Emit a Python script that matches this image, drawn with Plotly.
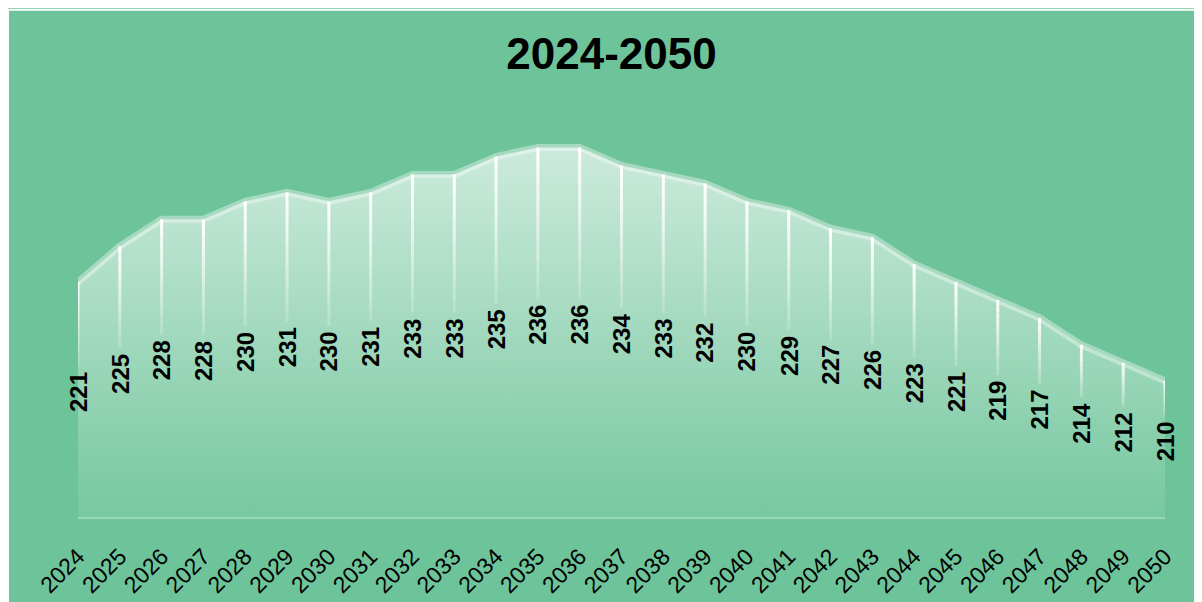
import plotly.graph_objects as go

years = list(range(2024, 2051))
values = [221, 225, 228, 228, 230, 231, 230, 231, 233, 233, 235, 236, 236, 234,
          233, 232, 230, 229, 227, 226, 223, 221, 219, 217, 214, 212, 210]
title_text = "2024-2050"

# the page places the figure with an 8px body margin; the figure overflows right/bottom
W, H = 1202, 602
ML, MR, MT, MB = 70, 45, 92, 90
Y_MIN, Y_MAX = 194.8, 241.3
plot_h = H - MT - MB
px_per_unit = plot_h / (Y_MAX - Y_MIN)
plot_w = W - ML - MR

BG = "#6EC49A"
FONT = "Liberation Sans, Arial"

fig = go.Figure()

fig.add_trace(go.Scatter(x=years, y=[Y_MIN] * len(years), mode="lines",
                         line=dict(width=0, color="rgba(0,0,0,0)"),
                         hoverinfo="skip", showlegend=False))
fig.add_trace(go.Scatter(
    x=years, y=values, mode="lines", fill="tonexty",
    line=dict(width=7, color="rgba(255,255,255,0.38)"),
    fillgradient=dict(type="vertical",
                      colorscale=[[0, "rgba(255,255,255,0.06)"], [1, "rgba(255,255,255,0.65)"]],
                      start=Y_MIN, stop=max(values)),
    showlegend=False, hoverinfo="skip"))

shapes = []
annotations = []
label_shift_px = 7.5
for yr, v in zip(years, values):
    mid = (v + Y_MIN) / 2
    label_center = mid + label_shift_px / px_per_unit
    line_bottom = label_center + 26 / px_per_unit
    n = 12
    for i in range(n):
        y0 = v - (v - line_bottom) * i / n
        y1 = v - (v - line_bottom) * (i + 1) / n
        op = 1.0 - 0.8 * i / (n - 1)
        shapes.append(dict(type="line", xref="x", yref="y", x0=yr, x1=yr, y0=y0, y1=y1,
                           line=dict(color="white", width=3), opacity=op, layer="above"))
    annotations.append(dict(x=yr, y=mid, xref="x", yref="y", text="<b>" + str(v) + "</b>",
                            textangle=-90, showarrow=False, yshift=label_shift_px,
                            font=dict(family=FONT, size=24, color="black")))

# thin white strips so the green panel starts at (9,10) on the page
shapes.append(dict(type="rect", xref="paper", yref="paper", layer="below",
                   x0=-ML / plot_w, x1=(1 - ML) / plot_w, y0=-MB / plot_h, y1=1 + MT / plot_h,
                   fillcolor="white", line=dict(width=0)))
shapes.append(dict(type="rect", xref="paper", yref="paper", layer="below",
                   x0=-ML / plot_w, x1=1 + MR / plot_w, y0=1 + (MT - 2) / plot_h, y1=1 + MT / plot_h,
                   fillcolor="white", line=dict(width=0)))

fig.update_layout(
    width=W, height=H,
    margin=dict(l=ML, r=MR, t=MT, b=MB, pad=0),
    paper_bgcolor=BG, plot_bgcolor="rgba(0,0,0,0)",
    title=dict(text="<b>" + title_text + "</b>", x=603.5 / W, xref="container", xanchor="center",
               y=1 - 45.5 / H, yref="container", yanchor="middle",
               font=dict(family=FONT, size=44, color="black")),
    xaxis=dict(range=[years[0], years[-1]], tickmode="array", tickvals=years,
               ticktext=[str(y) for y in years], tickangle=-45,
               tickfont=dict(family=FONT, size=23, color="black"),
               showgrid=False, zeroline=False, showline=True,
               linecolor="rgba(255,255,255,0.3)", linewidth=2,
               ticks="outside", ticklen=15, tickcolor="rgba(0,0,0,0)"),
    yaxis=dict(range=[Y_MIN, Y_MAX], visible=False, showgrid=False, zeroline=False),
    shapes=shapes, annotations=annotations, showlegend=False,
)

fig.write_html("out.html")
